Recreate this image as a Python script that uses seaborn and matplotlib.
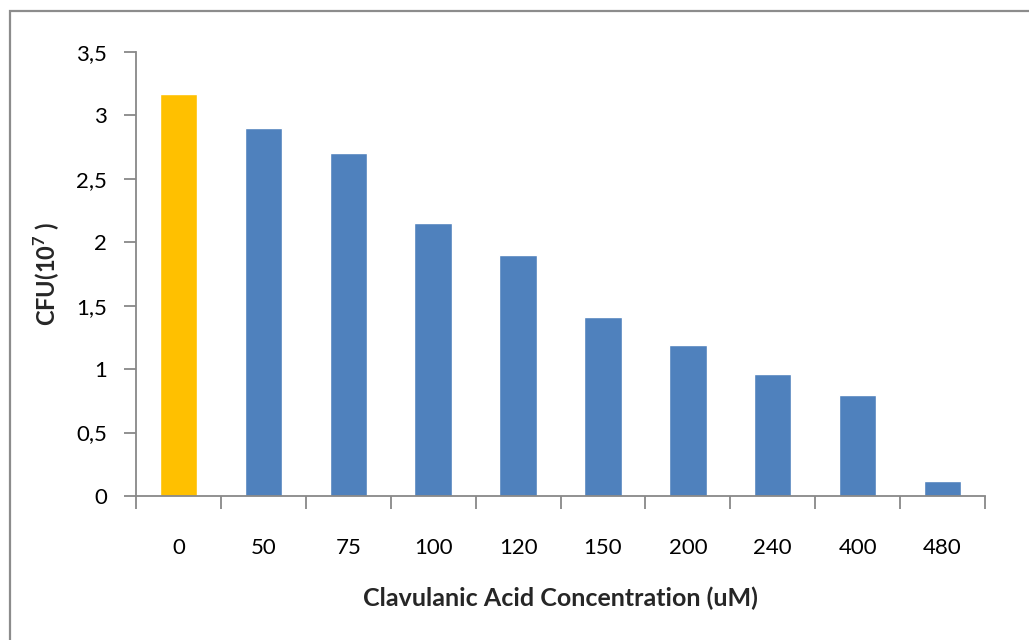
import matplotlib
matplotlib.use("Agg")
import matplotlib.pyplot as plt
import matplotlib.ticker as mticker
from matplotlib.patches import Rectangle
import numpy as np
import pandas as pd
import seaborn as sns

# Clavulanic acid concentrations (uM) and colony counts (CFU x 10^7)
concentrations = ["0", "50", "75", "100", "120", "150", "200", "240", "400", "480"]
cfu_values = [3.17, 2.90, 2.70, 2.15, 1.90, 1.41, 1.19, 0.96, 0.80, 0.12]
bar_groups = ["control"] + ["treated"] * 9
group_colors = {"control": "#FFC000", "treated": "#4F81BD"}

y_ticks = [0, 0.5, 1, 1.5, 2, 2.5, 3, 3.5]

df = pd.DataFrame({"conc": concentrations, "cfu": cfu_values, "group": bar_groups})

sns.set_theme(style="white")
plt.rcParams["font.family"] = ["Lato", "DejaVu Sans"]
plt.rcParams["mathtext.fontset"] = "custom"
plt.rcParams["mathtext.rm"] = "Lato"
plt.rcParams["mathtext.bf"] = "Lato:bold"

fig = plt.figure(figsize=(10.29, 6.40), dpi=100)
ax = fig.add_axes([136 / 1029, 1 - 496 / 640, (985 - 136) / 1029, (496 - 52) / 640])

sns.barplot(data=df, x="conc", y="cfu", hue="group", palette=group_colors,
            order=concentrations, legend=False, width=0.44, dodge=False,
            saturation=1, ax=ax)

spine_color = "#888888"
ax.set_xlim(-0.5, len(concentrations) - 0.5)
ax.set_ylim(0, 3.5)
ax.set_yticks(y_ticks)
ax.yaxis.set_major_formatter(
    mticker.FuncFormatter(lambda v, _: (f"{v:g}").replace(".", ",")))

# Category separators as tick marks on the x axis
ax.set_xticks(np.arange(len(concentrations)))
ax.set_xticklabels(concentrations)
ax.set_xticks(np.arange(-0.5, len(concentrations)), minor=True)
ax.tick_params(axis="x", which="major", length=0, pad=30, labelsize=16,
               labelcolor="#000000")
ax.tick_params(axis="x", which="minor", length=9, width=1.3, color=spine_color,
               direction="out", bottom=True)
ax.tick_params(axis="y", which="major", length=9, width=1.3, color=spine_color,
               direction="out", pad=12, labelsize=16, left=True,
               labelcolor="#000000")

for side in ("top", "right"):
    ax.spines[side].set_visible(False)
for side in ("left", "bottom"):
    ax.spines[side].set_color(spine_color)
    ax.spines[side].set_linewidth(1.3)

ax.set_xlabel("Clavulanic Acid Concentration (uM)", fontsize=18,
              fontweight="bold")
ax.set_ylabel(r"CFU(10$^{\mathbf{7}}$ )", fontsize=17, fontweight="bold")
ax.xaxis.set_label_coords(0.5, -0.205)
ax.yaxis.set_label_coords(-0.087, 0.5)

# Chart frame
fig.patches.append(Rectangle((10 / 1029, -0.05), 1.1, 1 - 11 / 640 + 0.05,
                             transform=fig.transFigure, fill=False,
                             edgecolor="#8c8c8c", linewidth=1.6))

fig.savefig("out.png", dpi=100, facecolor="white")
